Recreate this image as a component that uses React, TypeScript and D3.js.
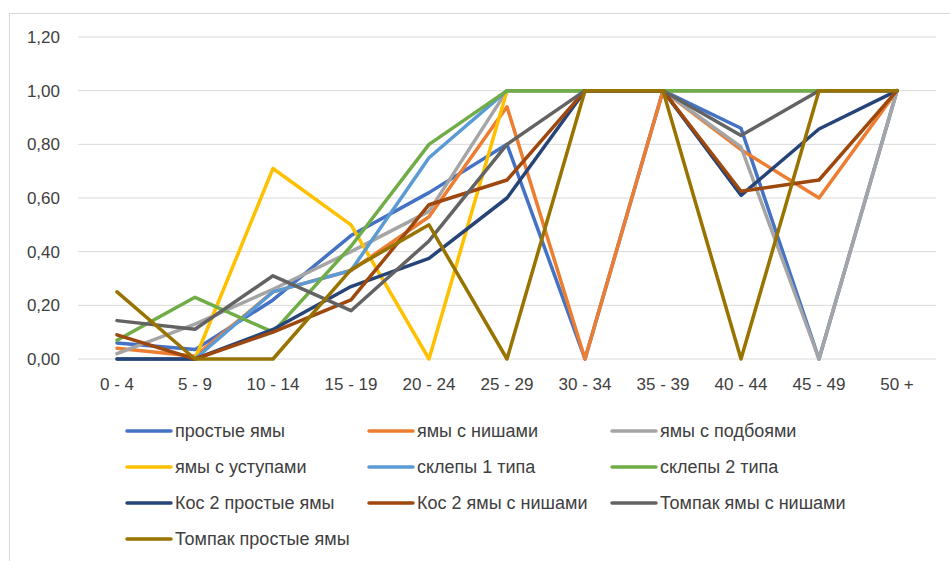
import React from "react";
import * as d3 from "d3";

const categories = ["0 - 4", "5 - 9", "10 - 14", "15 - 19", "20 - 24", "25 - 29", "30 - 34", "35 - 39", "40 - 44", "45 - 49", "50 +"];
const seriesNames = [
  "простые ямы",
  "ямы с нишами",
  "ямы с подбоями",
  "ямы с уступами",
  "склепы 1 типа",
  "склепы 2 типа",
  "Кос 2 простые ямы",
  "Кос 2 ямы с нишами",
  "Томпак ямы с нишами",
  "Томпак простые ямы",
];
const prostye = [0.06, 0.035, 0.22, 0.46, 0.62, 0.8, 0, 1, 0.86, 0, 1];
const nishi = [0.04, 0.01, 0.25, 0.33, 0.53, 0.94, 0, 1, 0.78, 0.6, 1];
const podboi = [0.02, 0.13, 0.26, 0.4, 0.55, 1, 1, 1, 0.79, 0, 1];
const ustupy = [0, 0, 0.71, 0.5, 0, 1, 1, 1, 1, 1, 1];
const sklep1 = [0, 0, 0.25, 0.33, 0.75, 1, 1, 1, 1, 1, 1];
const sklep2 = [0.07, 0.23, 0.1, 0.42, 0.8, 1, 1, 1, 1, 1, 1];
const kos2Prostye = [0, 0, 0.11, 0.27, 0.375, 0.6, 1, 1, 0.61, 0.857, 1];
const kos2Nishi = [0.09, 0, 0.1, 0.22, 0.575, 0.667, 1, 1, 0.625, 0.667, 1];
const tompakNishi = [0.143, 0.111, 0.31, 0.18, 0.44, 0.8, 1, 1, 0.833, 1, 1];
const tompakProstye = [0.25, 0, 0, 0.333, 0.5, 0, 1, 1, 0, 1, 1];
const yTicks = [0, 0.2, 0.4, 0.6, 0.8, 1.0, 1.2];

const seriesValues = [prostye, nishi, podboi, ustupy, sklep1, sklep2, kos2Prostye, kos2Nishi, tompakNishi, tompakProstye];
const colors = ["#4472C4", "#ED7D31", "#A5A5A5", "#FFC000", "#5B9BD5", "#70AD47", "#264478", "#9E480E", "#636363", "#997300"];

export default function App() {
  const W = 950, H = 561;
  const left = 78, right = 936, top = 37, bottom = 359;
  const x = d3.scaleBand().domain(categories).range([left, right]);
  const y = d3.scaleLinear().domain([0, 1.2]).range([bottom, top]);
  const line = d3
    .line<number>()
    .x((_, i) => (x(categories[i]) as number) + x.bandwidth() / 2)
    .y((d) => y(d));
  const fmt = (v: number) => v.toFixed(2).replace(".", ",");
  const font = "'Liberation Sans', Arial, sans-serif";
  const legendCols = [127, 369, 612];
  const legendRows = [431, 467, 503, 539];
  const textColor = "#404040";

  return (
    <svg width={W} height={H} style={{ position: "absolute", left: 0, top: 0, background: "#fff" }} fontFamily={font}>
      <rect x={9.5} y={13.5} width={W} height={H} fill="none" stroke="#d9d9d9" strokeWidth={1} />
      {yTicks.map((t) => (
        <g key={t}>
          <line x1={left} x2={right} y1={y(t)} y2={y(t)} stroke="#d9d9d9" strokeWidth={1} />
          <text x={60} y={y(t)} dy="0.35em" textAnchor="end" fontSize={17} fill={textColor}>
            {fmt(t)}
          </text>
        </g>
      ))}
      {categories.map((c) => (
        <text key={c} x={(x(c) as number) + x.bandwidth() / 2} y={384} dy="0.35em" textAnchor="middle" fontSize={17} fill={textColor}>
          {c}
        </text>
      ))}
      {seriesValues.map((vals, i) => (
        <path key={i} d={line(vals) || ""} fill="none" stroke={colors[i]} strokeWidth={3.5} strokeLinejoin="round" strokeLinecap="round" />
      ))}
      {seriesNames.map((name, i) => {
        const cx = legendCols[i % 3];
        const cy = legendRows[Math.floor(i / 3)];
        return (
          <g key={name}>
            <line x1={cx} x2={cx + 44} y1={cy} y2={cy} stroke={colors[i]} strokeWidth={3.5} strokeLinecap="round" />
            <text x={cx + 48} y={cy} dy="0.35em" fontSize={18} fill={textColor}>
              {name}
            </text>
          </g>
        );
      })}
    </svg>
  );
}
